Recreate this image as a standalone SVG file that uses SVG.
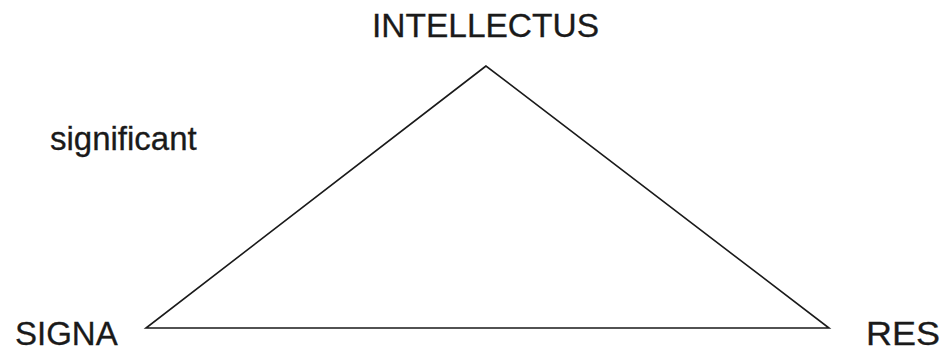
<svg xmlns="http://www.w3.org/2000/svg" width="947" height="352" viewBox="0 0 947 352">
<style>
.lbl{font-family:"Liberation Sans",Arial,sans-serif;font-size:33px;fill:#1a1a1a;stroke:#1a1a1a;stroke-width:0.3}
.edge{stroke:#1a1a1a;stroke-width:1.6;fill:none;stroke-linejoin:miter}
</style>
<rect width="947" height="352" fill="#fff"/>
<g id="connectors">
<path class="edge" d="M486,66 L146,328 L829,328 Z"/>
</g>
<g id="intellectus"><text class="lbl" x="372" y="37" textLength="227" lengthAdjust="spacingAndGlyphs">INTELLECTUS</text></g>
<g id="significant"><text class="lbl" x="50" y="150">significant</text></g>
<g id="signa"><text class="lbl" x="15" y="345">SIGNA</text></g>
<g id="res"><text class="lbl" x="866" y="345" textLength="74" lengthAdjust="spacingAndGlyphs">RES</text></g>
</svg>
